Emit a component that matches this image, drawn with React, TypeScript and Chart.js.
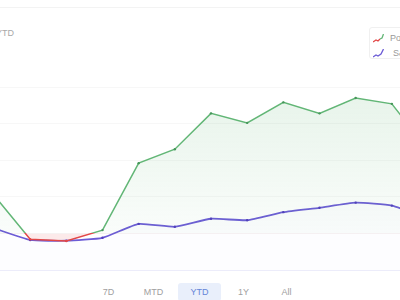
import React, { useEffect, useRef } from "react";
import { Chart, registerables } from "chart.js";

Chart.register(...registerables);

const labels = ["Dec 27", "Jan 3", "Jan 10", "Jan 17", "Jan 24", "Jan 31", "Feb 7", "Feb 14", "Feb 21", "Feb 28", "Mar 7", "Mar 14", "Mar 21"];
const portfolio = [5.2, -0.8, -1.05, 0.45, 9.6, 11.5, 16.4, 15.1, 17.9, 16.4, 18.5, 17.7, 11.4];
const benchmark = [0.7, -0.9, -1.0, -0.6, 1.3, 0.9, 2.0, 1.8, 2.9, 3.5, 4.2, 3.8, 2.1];
const yMin = -5;
const yMax = 20;
const yStep = 5;
const ranges = ["7D", "MTD", "YTD", "1Y", "All"];
const activeRange = "YTD";

const GREEN = "rgb(98,182,118)";
const RED = "rgb(226,72,72)";
const PURPLE = "rgb(108,92,214)";

function splitGradient(chart: any, above: string, below: string) {
  const area = chart.chartArea;
  const y = chart.scales.y;
  if (!area || !y) return above;
  const zero = y.getPixelForValue(0);
  const g = chart.ctx.createLinearGradient(0, area.top, 0, area.bottom);
  const stop = Math.min(1, Math.max(0, (zero - area.top) / (area.bottom - area.top)));
  g.addColorStop(0, above);
  g.addColorStop(stop, above);
  g.addColorStop(stop, below);
  g.addColorStop(1, below);
  return g;
}

function greenFill(chart: any) {
  const area = chart.chartArea;
  const y = chart.scales.y;
  if (!area || !y) return "rgba(92,178,112,0.1)";
  const zero = y.getPixelForValue(0);
  const g = chart.ctx.createLinearGradient(0, area.top, 0, zero);
  g.addColorStop(0, "rgba(92,178,112,0.15)");
  g.addColorStop(1, "rgba(92,178,112,0.03)");
  return g;
}

function LegendIcon({ colors }: { colors: string[] }) {
  if (colors.length === 2) {
    return (
      <svg width="11" height="9" viewBox="0 0 11 9">
        <polyline points="0,8 3,6 5,7 7,5" fill="none" stroke={colors[0]} strokeWidth="1.3" />
        <polyline points="7,5 9,4 10.5,0" fill="none" stroke={colors[1]} strokeWidth="1.3" />
      </svg>
    );
  }
  return (
    <svg width="11" height="9" viewBox="0 0 11 9">
      <polyline points="0,8 3,6 5,7 8,5 10.5,0" fill="none" stroke={colors[0]} strokeWidth="1.3" />
    </svg>
  );
}

export default function App() {
  const ref = useRef<HTMLCanvasElement | null>(null);

  useEffect(() => {
    if (!ref.current) return;
    const chart = new Chart(ref.current, {
      type: "line",
      data: {
        labels,
        datasets: [
          {
            label: "Portfolio",
            data: portfolio,
            borderColor: (ctx: any) => splitGradient(ctx.chart, GREEN, RED),
            borderWidth: 1.5,
            pointRadius: 1.2,
            pointBorderWidth: 0,
            pointBackgroundColor: (ctx: any) => (ctx.raw < 0 ? RED : "rgb(70,150,90)"),
            tension: 0,
            fill: {
              target: "origin",
              above: (ctx: any) => greenFill(ctx.chart),
              below: "rgba(230,80,80,0.12)",
            } as any,
          },
          {
            label: "S&P 500",
            data: benchmark,
            borderColor: PURPLE,
            borderWidth: 1.8,
            pointRadius: 1.2,
            pointBorderWidth: 0,
            pointBackgroundColor: "rgb(80,60,190)",
            tension: 0.15,
            fill: { target: "start", above: "rgba(108,92,214,0.012)", below: "rgba(108,92,214,0.012)" } as any,
          },
        ],
      },
      options: {
        responsive: false,
        maintainAspectRatio: false,
        animation: false,
        layout: { padding: { left: 10, right: 10, top: 10, bottom: 10 } },
        plugins: { legend: { display: false }, tooltip: { enabled: false } },
        scales: {
          x: { display: false },
          y: {
            min: yMin,
            max: yMax,
            ticks: { display: false, stepSize: yStep },
            border: { display: false },
            grid: {
              color: (ctx: any) => (ctx.tick && ctx.tick.value === yMin ? "rgba(120,120,220,0.14)" : "rgba(0,0,0,0.03)"),
              drawTicks: false,
            },
            afterFit: (s: any) => {
              s.width = 0;
            },
          } as any,
        },
      },
    });
    return () => chart.destroy();
  }, []);

  const font = "'Liberation Sans', Arial, sans-serif";

  return (
    <div style={{ position: "fixed", left: 0, top: 0, width: 400, height: 300, overflow: "hidden", background: "#fff", fontFamily: font }}>
      <div style={{ position: "absolute", left: 0, top: 7, width: 400, height: 1, background: "#f3f3f3" }} />
      <div style={{ position: "absolute", right: 386, top: 28, fontSize: 9, color: "#a8a8a8", whiteSpace: "nowrap" }}>
        Cumulative return · YTD
      </div>
      <canvas ref={ref} width={454} height={203} style={{ position: "absolute", left: -16, top: 77, width: 454, height: 203 }} />
      <div
        style={{
          position: "absolute",
          left: 369,
          top: 27,
          width: 70,
          height: 30,
          border: "1px solid #f0f0f0",
          borderRadius: 3,
          background: "#fff",
          fontSize: 9,
          color: "#999",
        }}
      >
        <div style={{ position: "absolute", left: 3, top: 5, display: "flex", alignItems: "center", gap: 6, whiteSpace: "nowrap" }}>
          <LegendIcon colors={[RED, GREEN]} />
          <span>Portfolio</span>
        </div>
        <div style={{ position: "absolute", left: 3, top: 20, display: "flex", alignItems: "center", gap: 9, whiteSpace: "nowrap" }}>
          <LegendIcon colors={[PURPLE]} />
          <span>S&amp;P 500</span>
        </div>
      </div>
      {ranges.map((r, i) => {
        const centers = [108, 153, 199, 243, 286];
        const active = r === activeRange;
        return (
          <div
            key={r}
            style={{
              position: "absolute",
              left: centers[i] - 21,
              top: 283,
              width: 43,
              height: 18,
              lineHeight: "18px",
              textAlign: "center",
              fontSize: 9,
              borderRadius: 3,
              background: active ? "#e9effb" : "transparent",
              color: active ? "#6585d8" : "#a0a0a0",
            }}
          >
            {r}
          </div>
        );
      })}
    </div>
  );
}
